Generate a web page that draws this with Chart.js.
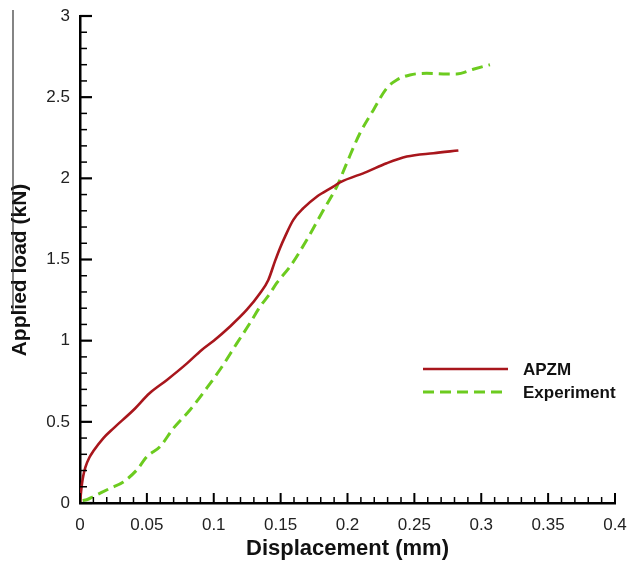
<!DOCTYPE html>
<html>
<head>
<meta charset="utf-8">
<script src="https://cdn.jsdelivr.net/npm/chart.js@4/dist/chart.umd.min.js"></script>
<style>
  html, body { margin: 0; padding: 0; background: #fff; }
  #wrap { width: 629px; height: 562px; position: relative; }
</style>
</head>
<body>
<div id="wrap"><canvas id="c" width="629" height="562"></canvas></div>
<script>
// ---- data ----
const apzmX = [0, 0.0008, 0.0015, 0.0025, 0.004, 0.007, 0.01, 0.0175, 0.025, 0.04, 0.052, 0.065, 0.08, 0.091, 0.1, 0.112, 0.1246, 0.1346, 0.1408, 0.1458, 0.1495, 0.1533, 0.1595, 0.167, 0.177, 0.1894, 0.1944, 0.2144, 0.2293, 0.2443, 0.2642, 0.2829];
const apzmY = [0, 0.07, 0.12, 0.17, 0.22, 0.28, 0.32, 0.40, 0.46, 0.573, 0.676, 0.758, 0.86, 0.943, 1.0, 1.086, 1.189, 1.292, 1.374, 1.49, 1.57, 1.641, 1.744, 1.816, 1.887, 1.949, 1.975, 2.04, 2.093, 2.134, 2.155, 2.171];
const expX = [0.002, 0.005, 0.01, 0.0224, 0.0324, 0.0424, 0.05, 0.0598, 0.0698, 0.0822, 0.0947, 0.107, 0.117, 0.127, 0.1346, 0.142, 0.147, 0.157, 0.1695, 0.182, 0.192, 0.1994, 0.2093, 0.2193, 0.2293, 0.2368, 0.2467, 0.2592, 0.2742, 0.2816, 0.294, 0.3065];
const expY = [0.015, 0.02, 0.04, 0.09, 0.13, 0.203, 0.285, 0.347, 0.46, 0.573, 0.707, 0.85, 0.98, 1.107, 1.209, 1.29, 1.354, 1.456, 1.62, 1.805, 1.949, 2.093, 2.278, 2.42, 2.555, 2.606, 2.637, 2.647, 2.643, 2.643, 2.672, 2.70];
const seriesNames = ['APZM', 'Experiment'];
const xTickValues = [0, 0.05, 0.1, 0.15, 0.2, 0.25, 0.3, 0.35, 0.4];
const xTickLabels = ['0', '0.05', '0.1', '0.15', '0.2', '0.25', '0.3', '0.35', '0.4'];
const yTickValues = [0, 0.5, 1, 1.5, 2, 2.5, 3];
const yTickLabels = ['0', '0.5', '1', '1.5', '2', '2.5', '3'];
const xTitle = 'Displacement (mm)';
const yTitle = 'Applied load (kN)';

const RED = '#a8161c';
const GREEN = '#6ccb1f';
const FONT = '"Liberation Sans", Arial, sans-serif';

function pts(xs, ys) { return xs.map((x, i) => ({ x: x, y: ys[i] })); }

const decor = {
  id: 'decor',
  afterDraw(chart) {
    const ctx = chart.ctx;
    const xs = chart.scales.x, ys = chart.scales.y;
    const area = chart.chartArea;
    ctx.save();
    ctx.strokeStyle = '#000';
    // inward ticks on x axis
    const xMinorStep = 0.01;
    for (let i = 0; i <= Math.round((xs.max - xs.min) / xMinorStep); i++) {
      const v = xs.min + i * xMinorStep;
      const major = i % 5 === 0;
      const px = xs.getPixelForValue(v);
      ctx.lineWidth = major ? 2 : 1.5;
      ctx.beginPath();
      ctx.moveTo(px, area.bottom);
      ctx.lineTo(px, area.bottom - (major ? 10 : 6));
      ctx.stroke();
    }
    // inward ticks on y axis
    const yMinorStep = 0.1;
    for (let i = 0; i <= Math.round((ys.max - ys.min) / yMinorStep); i++) {
      const v = ys.min + i * yMinorStep;
      const major = i % 5 === 0;
      const py = ys.getPixelForValue(v);
      ctx.lineWidth = major ? 2.2 : 1.5;
      ctx.beginPath();
      ctx.moveTo(area.left, py);
      ctx.lineTo(area.left + (major ? 12 : 7), py);
      ctx.stroke();
    }
    // y axis title
    ctx.save();
    ctx.translate(20, 270);
    ctx.rotate(-Math.PI / 2);
    ctx.font = 'bold 21px ' + FONT;
    ctx.fillStyle = '#111';
    ctx.textAlign = 'center';
    ctx.textBaseline = 'middle';
    ctx.fillText(yTitle, 0, 0);
    ctx.restore();
    // stray frame line at the left edge of the figure
    ctx.strokeStyle = '#333';
    ctx.lineWidth = 1.2;
    ctx.beginPath();
    ctx.moveTo(13, 10);
    ctx.lineTo(13, 312);
    ctx.stroke();
    // legend inside plot area
    const ds = chart.data.datasets;
    const lx0 = 423, lx1 = 508, tx = 523;
    const rows = [369, 392];
    ds.forEach((d, i) => {
      ctx.strokeStyle = d.borderColor;
      ctx.lineWidth = d.borderWidth;
      ctx.setLineDash(d.borderDash || []);
      ctx.beginPath();
      ctx.moveTo(lx0, rows[i]);
      ctx.lineTo(lx1, rows[i]);
      ctx.stroke();
      ctx.setLineDash([]);
      ctx.font = 'bold 17px ' + FONT;
      ctx.fillStyle = '#111';
      ctx.textAlign = 'left';
      ctx.textBaseline = 'middle';
      ctx.fillText(d.label, tx, rows[i] + 1);
    });
    ctx.restore();
  }
};

new Chart(document.getElementById('c'), {
  type: 'line',
  data: {
    datasets: [
      {
        label: seriesNames[0],
        data: pts(apzmX, apzmY),
        borderColor: RED,
        backgroundColor: RED,
        borderWidth: 2.6,
        pointRadius: 0,
        tension: 0.35,
        cubicInterpolationMode: 'monotone',
        fill: false
      },
      {
        label: seriesNames[1],
        data: pts(expX, expY),
        borderColor: GREEN,
        backgroundColor: GREEN,
        borderWidth: 3,
        borderDash: [11, 6],
        pointRadius: 0,
        tension: 0.35,
        cubicInterpolationMode: 'monotone',
        fill: false
      }
    ]
  },
  options: {
    responsive: false,
    animation: false,
    devicePixelRatio: 1,
    layout: { padding: { top: 16, right: 14, bottom: 0, left: 0 } },
    plugins: { legend: { display: false }, tooltip: { enabled: false } },
    scales: {
      x: {
        type: 'linear',
        min: 0, max: 0.4,
        afterBuildTicks: (s) => { s.ticks = xTickValues.map(v => ({ value: v })); },
        afterFit: (s) => { s.height = 59; s.paddingLeft = 0; s.paddingRight = 0; },
        ticks: {
          callback: (v) => { const i = xTickValues.indexOf(v); return i >= 0 ? xTickLabels[i] : ''; },
          font: { family: FONT, size: 17 },
          color: '#222',
          padding: 12,
          maxRotation: 0
        },
        grid: { display: false, drawTicks: false },
        border: { display: true, color: '#000', width: 2.5 },
        title: {
          display: true,
          text: xTitle,
          font: { family: FONT, size: 22, weight: 'bold' },
          color: '#111',
          padding: { top: 0, bottom: 0 }
        }
      },
      y: {
        type: 'linear',
        min: 0, max: 3,
        afterBuildTicks: (s) => { s.ticks = yTickValues.map(v => ({ value: v })); },
        afterFit: (s) => { s.width = 80; s.paddingTop = 0; s.paddingBottom = 0; },
        ticks: {
          callback: (v) => { const i = yTickValues.indexOf(v); return i >= 0 ? yTickLabels[i] : ''; },
          font: { family: FONT, size: 17 },
          color: '#222',
          padding: 10
        },
        grid: { display: false, drawTicks: false },
        border: { display: true, color: '#000', width: 2.5 }
      }
    }
  },
  plugins: [decor]
});
</script>
</body>
</html>
